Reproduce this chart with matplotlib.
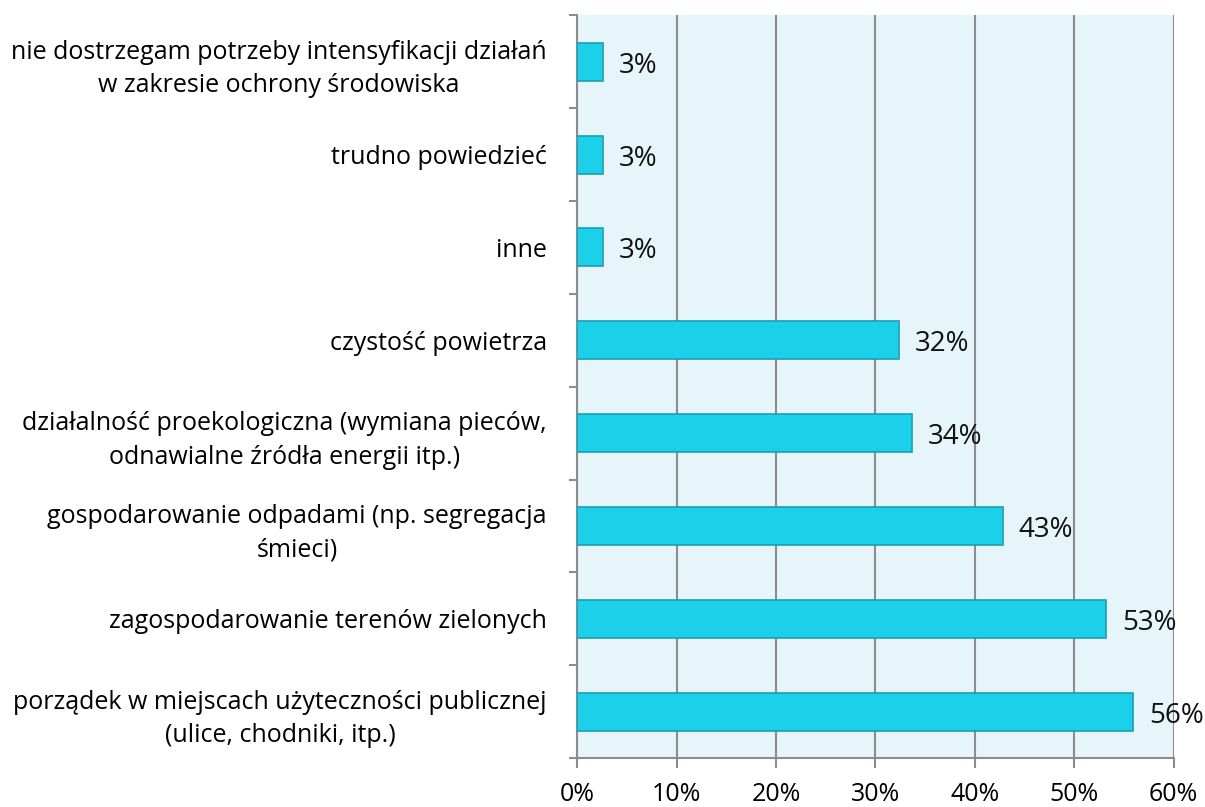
import matplotlib
matplotlib.use("Agg")
import matplotlib.pyplot as plt
import numpy as np

plt.rcParams['font.family'] = ['Open Sans', 'DejaVu Sans']

categories = [
    "porządek w miejscach użyteczności publicznej\n(ulice, chodniki, itp.)",
    "zagospodarowanie terenów zielonych",
    "gospodarowanie odpadami (np. segregacja\nśmieci)",
    "działalność proekologiczna (wymiana pieców,\nodnawialne źródła energii itp.)",
    "czystość powietrza",
    "inne",
    "trudno powiedzieć",
    "nie dostrzegam potrzeby intensyfikacji działań\nw zakresie ochrony środowiska",
]
values = [55.9, 53.2, 42.8, 33.7, 32.4, 2.6, 2.6, 2.6]
xticks = [0, 10, 20, 30, 40, 50, 60]

fig = plt.figure(figsize=(12.05, 8.07), dpi=100)
ax = fig.add_axes([0.479, 0.0607, 0.495, 0.9203])
ax.set_facecolor('#E6F5FA')

y = np.arange(len(categories))
ax.barh(y, values, height=0.41, color='#1BD0E8', edgecolor='#1A9EB2', linewidth=1.2, zorder=3)

for yi, v in zip(y, values):
    ax.annotate(f"{round(v):d}%", xy=(v, yi), xytext=(16, -4), textcoords='offset pixels',
                va='center', ha='left', fontsize=20, color='#111111', zorder=4)

ax.set_xlim(0, 60)
ax.set_ylim(-0.5, len(categories) - 0.5)
ax.set_xticks(xticks)
ax.set_xticklabels([f"{t}%" for t in xticks], fontsize=18)
ax.xaxis.grid(True, color='#8C8C8C', linewidth=1.5, zorder=1)
ax.set_axisbelow(True)

# category labels sit between the boundary tick marks
ax.set_yticks(y)
ax.set_yticklabels(categories, fontsize=18, ha='right', multialignment='center', linespacing=1.45)
ax.tick_params(axis='y', length=0, pad=22)
ax.set_yticks(np.arange(-0.5, len(categories)), minor=True)
ax.tick_params(axis='y', which='minor', length=6, width=1.5, color='#8C8C8C')
ax.tick_params(axis='x', length=7, width=1.5, color='#8C8C8C', pad=10)

for s in ['top', 'right']:
    ax.spines[s].set_visible(False)
for s in ['left', 'bottom']:
    ax.spines[s].set_color('#8C8C8C')
    ax.spines[s].set_linewidth(1.5)

fig.savefig('out.png', dpi=100, facecolor='white')
